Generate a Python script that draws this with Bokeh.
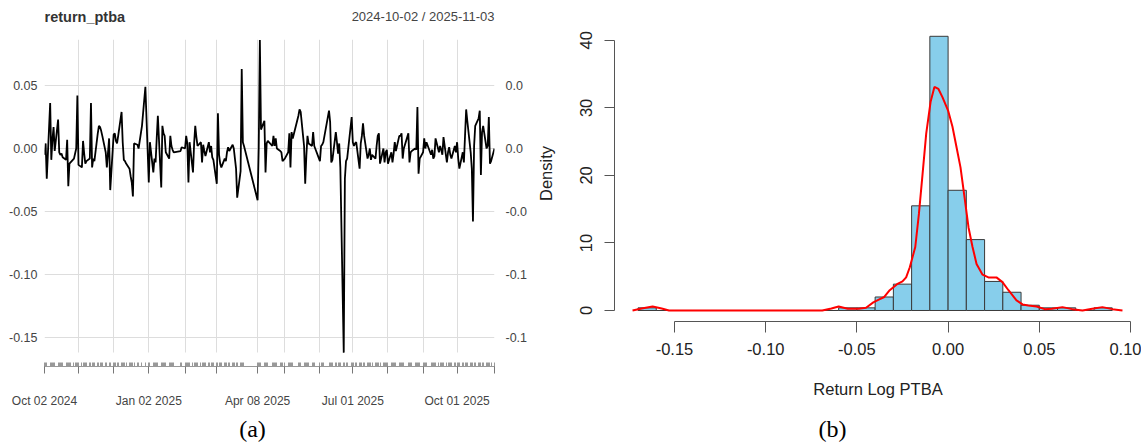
import pandas as pd
from bokeh.plotting import figure
from bokeh.layouts import row, column
from bokeh.models import (ColumnDataSource, FixedTicker, LinearAxis,
                          Range1d, PrintfTickFormatter)
from bokeh.core.properties import value
from bokeh.embed import file_html
from bokeh.resources import INLINE

# ---------------- data: panel (a) ----------------
start_date = "2024-10-02"
end_date = "2025-11-03"
holidays = ["2024-11-27", "2024-12-25", "2024-12-26", "2024-12-31", "2025-01-01",
            "2025-01-27", "2025-01-28", "2025-01-29", "2025-03-28", "2025-03-31",
            "2025-04-01", "2025-04-02", "2025-04-03", "2025-04-04", "2025-04-07",
            "2025-04-18", "2025-05-01", "2025-05-12", "2025-05-13", "2025-05-29",
            "2025-05-30", "2025-06-06", "2025-06-09", "2025-06-27", "2025-08-18",
            "2025-09-05"]

oct24 = [-0.005, 0.004, -0.024, 0.036, -0.009, 0.007, 0.017, -0.002, 0.023, -0.003, -0.005,
         -0.004, -0.007, -0.009, 0.007, -0.030, -0.012, -0.011, -0.008, -0.004, 0.000, 0.042]
nov24 = [-0.013, -0.015, 0.006, -0.004, -0.012, -0.010, -0.008, 0.036, -0.015, -0.008,
         -0.010, 0.012, 0.018, 0.017, 0.014, 0.010, -0.003, -0.015, 0.008, -0.033]
dec24 = [0.011, 0.012, 0.006, 0.004, 0.010, 0.029, 0.005, -0.009, -0.010, -0.012,
         -0.016, -0.022, -0.027, -0.038, 0.004, 0.003, 0.000, 0.018, 0.049]
jan25 = [-0.027, 0.005, -0.019, -0.008, -0.011, 0.008, 0.026, -0.031, 0.018, 0.012,
         0.010, -0.003, -0.008, 0.010, 0.002, -0.001, -0.003, -0.002, 0.001]
feb25 = [0.000, 0.010, 0.004, -0.027, 0.005, -0.019, 0.004, 0.018, 0.009, 0.002,
         0.005, -0.011, 0.003, -0.002, -0.006, 0.005, -0.003, 0.002, -0.007, -0.009]
mar25 = [-0.028, 0.028, -0.005, -0.012, -0.015, -0.008, -0.010, -0.003, 0.001, -0.002,
         0.003, 0.000, -0.008, -0.016, -0.039, -0.018, 0.063, 0.005, 0.002]
apr25 = [-0.041, 0.001, 0.086, 0.015, 0.022, -0.019, 0.004, 0.006, 0.002, 0.010,
         0.002, 0.008, 0.000, -0.002, -0.003, -0.010]
may25 = [-0.008, -0.003, 0.012, -0.015, 0.013, 0.008, 0.026, 0.031, 0.029, 0.002,
         -0.028, -0.006, 0.010, 0.004, 0.002, 0.013, 0.002]
jun25 = [-0.010, 0.002, 0.003, 0.005, 0.030, 0.021, -0.011, -0.009, 0.013, 0.005,
         -0.004, 0.004, -0.015, -0.162, -0.024, -0.010, -0.008, 0.025]
jul25 = [0.005, 0.002, 0.004, 0.005, -0.016, 0.004, 0.010, 0.020, 0.010, -0.008, -0.005,
         0.000, -0.009, -0.005, -0.008, 0.002, 0.010, 0.012, -0.012, 0.000, -0.011,
         -0.003, -0.001]
aug25 = [-0.012, -0.003, -0.011, -0.004, 0.005, -0.002, 0.010, 0.010, 0.012, -0.008,
         0.000, 0.012, -0.011, -0.003, -0.002, 0.000, -0.001, 0.033, -0.020, -0.008]
sep25 = [-0.003, 0.008, 0.000, 0.005, -0.005, -0.001, -0.008, -0.006, 0.008, -0.003,
         0.002, -0.001, -0.005, 0.009, -0.011, -0.003, 0.001, -0.005, -0.008, 0.002, -0.003]
oct25 = [0.005, -0.008, -0.016, -0.003, -0.011, 0.010, 0.031, 0.022, -0.003, -0.016,
         -0.058, 0.002, 0.018, 0.024, 0.030, -0.021, 0.013, 0.018, 0.000, 0.002, 0.025,
         -0.012, -0.010]
nov25 = [0.000]

returns = (oct24 + nov24 + dec24 + jan25 + feb25 + mar25 + apr25 + may25 + jun25
           + jul25 + aug25 + sep25 + oct25 + nov25)

month_ticks = ["2024-10-02", "2024-11-01", "2024-12-02", "2025-01-02", "2025-02-03",
               "2025-03-03", "2025-04-08", "2025-05-02", "2025-06-02", "2025-07-01",
               "2025-08-01", "2025-09-01", "2025-10-01", "2025-11-03"]
labelled_ticks = ["2024-10-02", "2025-01-02", "2025-04-08", "2025-07-01", "2025-10-01"]
y_ticks_a = [-0.15, -0.10, -0.05, 0.0, 0.05]
y_right_labels = ["-0.1", "-0.1", "-0.0", "0.0", "0.0"]

# ---------------- data: panel (b) ----------------
hist_breaks = [-0.17, -0.16, -0.15, -0.14, -0.13, -0.12, -0.11, -0.10, -0.09, -0.08,
               -0.07, -0.06, -0.05, -0.04, -0.03, -0.02, -0.01, 0.00, 0.01, 0.02,
               0.03, 0.04, 0.05, 0.06, 0.07, 0.08, 0.09]
hist_density = [0.39, 0, 0, 0, 0, 0, 0, 0, 0, 0,
                0, 0.39, 0.39, 2.0, 3.9, 15.5, 40.6, 17.8, 10.5, 4.3,
                2.7, 0.78, 0.39, 0.39, 0, 0.39]
dens_x = [-0.173, -0.168, -0.162, -0.157, -0.153, -0.120, -0.069, -0.064, -0.060, -0.055,
          -0.049, -0.045, -0.041, -0.038, -0.035, -0.032, -0.028, -0.025, -0.023, -0.021,
          -0.018, -0.016, -0.014, -0.012, -0.0096, -0.0075, -0.0053, -0.0031, 0.0,
          0.0024, 0.0046, 0.0068, 0.009, 0.0112, 0.0134, 0.0156, 0.0189, 0.0221, 0.0265,
          0.0298, 0.0331, 0.0375, 0.0408, 0.044, 0.0485, 0.053, 0.057, 0.0627, 0.068,
          0.0737, 0.079, 0.0846, 0.090, 0.0956]
dens_y = [0.0, 0.3, 0.6, 0.3, 0.0, 0.0, 0.0, 0.3, 0.6, 0.25,
          0.25, 0.4, 1.2, 1.6, 2.0, 3.0, 3.9, 4.3, 4.9, 6.4,
          9.4, 14.3, 20.2, 26.2, 30.9, 33.1, 32.8, 31.6, 29.6,
          27.2, 24.2, 21.2, 16.8, 12.3, 9.4, 6.9, 5.3, 4.9, 4.9,
          4.2, 3.0, 1.5, 0.9, 0.75, 0.6, 0.2, 0.25, 0.5, 0.2,
          0.0, 0.25, 0.5, 0.2, 0.0]
x_ticks_b = [-0.15, -0.10, -0.05, 0.0, 0.05, 0.10]
y_ticks_b = [0, 10, 20, 30, 40]


def ms(d):
    return pd.Timestamp(d).value / 1e6


dates = [d for d in pd.bdate_range(start_date, end_date)
         if d.strftime("%Y-%m-%d") not in holidays]
assert len(dates) == len(returns), (len(dates), len(returns))
date_ms = [ms(d) for d in dates]

SANS = "Liberation Sans"
SERIF = "Liberation Serif"
GRID = "#dddddd"

WA, WB = 530, 611


def strip(width, height, x_range, y_range, bl=0, br=0):
    s = figure(width=width, height=height, x_range=x_range, y_range=y_range,
               x_axis_location=None, y_axis_location=None, title=None,
               output_backend="svg", toolbar_location=None,
               min_border_left=bl, min_border_right=br,
               min_border_top=0, min_border_bottom=0)
    s.outline_line_color = None
    s.grid.visible = False
    return s


# ---------------- panel (a) ----------------
x0, x1 = ms(start_date), ms(end_date)
p1 = figure(width=WA, height=380, x_axis_type="datetime",
            x_range=Range1d(x0, x1), y_range=Range1d(-0.173, 0.0865),
            output_backend="svg", toolbar_location=None, title=None,
            min_border_left=44, min_border_right=WA - 494, min_border_top=9,
            min_border_bottom=44)
p1.outline_line_color = None

src = ColumnDataSource(dict(x=date_ms, y=returns))
p1.line("x", "y", source=src, line_color="black", line_width=1.8)

xa = p1.xaxis[0]
xa.ticker = FixedTicker(ticks=[ms(t) for t in month_ticks], minor_ticks=date_ms)
xa.major_label_overrides = {ms(t): (pd.Timestamp(t).strftime("%b %d %Y")
                                    if t in labelled_ticks else "")
                            for t in month_ticks}
xa.axis_line_color = "#999999"
xa.major_tick_line_color = "#777777"
xa.minor_tick_line_color = "#999999"
xa.major_tick_in = 3
xa.major_tick_out = 7
xa.minor_tick_in = 4
xa.minor_tick_out = 0
xa.major_label_text_font = SANS
xa.major_label_text_font_size = "12px"
xa.major_label_text_color = "#444444"
xa.major_label_standoff = 20

ya = p1.yaxis[0]
ya.ticker = FixedTicker(ticks=y_ticks_a, minor_ticks=[])
ya.formatter = PrintfTickFormatter(format="%.2f")
ya.axis_line_color = None
ya.major_tick_line_color = None
ya.minor_tick_line_color = None
ya.major_tick_out = 0
ya.major_tick_in = 0
ya.major_label_text_font = SANS
ya.major_label_text_font_size = "12.5px"
ya.major_label_text_color = "#444444"
ya.major_label_standoff = 7

ra = LinearAxis(ticker=FixedTicker(ticks=y_ticks_a, minor_ticks=[]),
                major_label_overrides=dict(zip(y_ticks_a, y_right_labels)))
ra.axis_line_color = None
ra.major_tick_line_color = None
ra.minor_tick_line_color = None
ra.major_tick_out = 0
ra.major_tick_in = 0
ra.major_label_text_font = SANS
ra.major_label_text_font_size = "12.5px"
ra.major_label_text_color = "#444444"
ra.major_label_standoff = 11
p1.add_layout(ra, "right")

p1.xgrid.grid_line_color = GRID
p1.ygrid.grid_line_color = GRID
p1.xgrid.cross_bounds = (min(returns), 0.0865)

a_top = strip(WA, 30, p1.x_range, Range1d(0, 30), bl=44, br=WA - 494)
a_top.text(x=[x0], y=[14], text=["return_ptba"], text_font=value(SANS),
           text_font_size=value("14.5px"), text_font_style="bold",
           text_color="#333333", text_align="left", text_baseline="middle")
a_top.text(x=[x1], y=[14], text=[f"{start_date} / {end_date}"], text_font=value(SANS),
           text_font_size=value("13px"), text_color="#444444",
           text_align="right", text_baseline="middle")

a_bot = strip(WA, 34, p1.x_range, Range1d(0, 34), bl=44, br=WA - 494)
a_bot.text(x=[x0 + (252 - 44) / 450 * (x1 - x0)], y=[15.5], text=["(a)"],
           text_font=value(SERIF), text_font_size=value("24px"), text_color="black",
           text_align="center", text_baseline="alphabetic")

# ---------------- panel (b) ----------------
p2 = figure(width=WB, height=410, x_range=Range1d(-0.18289, 0.10603),
            y_range=Range1d(-1.63, 42.2), output_backend="svg",
            toolbar_location=None, title=None,
            min_border_left=614 - WA, min_border_right=0, min_border_top=25,
            min_border_bottom=89)
p2.outline_line_color = None
p2.grid.visible = False

p2.quad(left=hist_breaks[:-1], right=hist_breaks[1:], bottom=0, top=hist_density,
        fill_color="#87CEEB", line_color="#3a3a3a", line_width=1)
p2.line(dens_x, dens_y, line_color="#ff0000", line_width=2)

bx = p2.xaxis[0]
bx.ticker = FixedTicker(ticks=x_ticks_b, minor_ticks=[])
bx.formatter = PrintfTickFormatter(format="%.2f")
bx.bounds = (x_ticks_b[0], x_ticks_b[-1])
bx.axis_line_color = "#555555"
bx.major_tick_line_color = "#555555"
bx.major_tick_in = 0
bx.major_tick_out = 11
bx.major_label_text_font = SANS
bx.major_label_text_font_size = "16.5px"
bx.major_label_text_color = "#222222"
bx.major_label_standoff = 10
bx.axis_label = "Return Log PTBA"
bx.axis_label_text_font = SANS
bx.axis_label_text_font_size = "16.5px"
bx.axis_label_text_font_style = "normal"
bx.axis_label_text_color = "#222222"
bx.axis_label_standoff = 22

by = p2.yaxis[0]
by.ticker = FixedTicker(ticks=y_ticks_b, minor_ticks=[])
by.bounds = (y_ticks_b[0], y_ticks_b[-1])
by.axis_line_color = "#555555"
by.major_tick_line_color = "#555555"
by.major_tick_in = 0
by.major_tick_out = 10
by.major_label_orientation = "vertical"
by.major_label_text_font = SANS
by.major_label_text_font_size = "16.5px"
by.major_label_text_color = "#222222"
by.major_label_standoff = 12
by.axis_label = "Density"
by.axis_label_text_font = SANS
by.axis_label_text_font_size = "16.5px"
by.axis_label_text_font_style = "normal"
by.axis_label_text_color = "#222222"
by.axis_label_standoff = 23

b_bot = strip(WB, 34, p2.x_range, Range1d(0, 34), bl=614 - WA, br=0)
b_bot.text(x=[-0.0634], y=[15.5], text=["(b)"], text_font=value(SERIF),
           text_font_size=value("24px"), text_color="black",
           text_align="center", text_baseline="alphabetic")

layout = row(column(a_top, p1, a_bot), column(p2, b_bot))
open("out.html", "w").write(file_html(layout, INLINE, title="return_ptba"))
